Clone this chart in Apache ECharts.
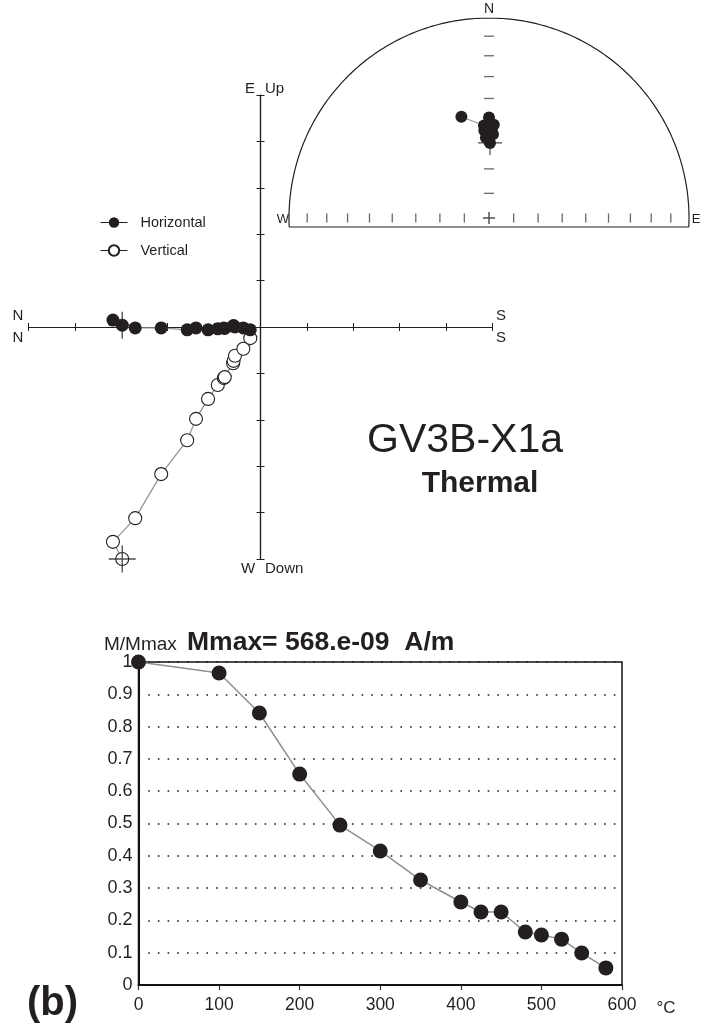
<!DOCTYPE html>
<html>
<head>
<meta charset="utf-8">
<script src="https://cdn.jsdelivr.net/npm/echarts@6/dist/echarts.min.js"></script>
<style>
  html, body { margin: 0; padding: 0; background: #fff; }
  #chart { width: 713px; height: 1028px; }
</style>
</head>
<body>
<div id="chart"></div>
<script>
// Thermal demagnetisation steps (°C)
const steps = [0, 100, 150, 200, 250, 300, 350, 400, 425, 450, 480, 500, 525, 550, 580];
// Remaining intensity, normalised to Mmax
const intensity = [1.0, 0.966, 0.842, 0.653, 0.495, 0.415, 0.325, 0.257, 0.226, 0.226, 0.164, 0.155, 0.142, 0.099, 0.053];
// Vector components per step (x1e-9 A/m)
const north = [298, 318, 270, 214, 158, 139, 113, 92, 79, 77, 59, 58, 55, 37, 22];
const east  = [4, 15, -2, -2, -6, -2, -6, -4, -2, -3, 2, 3, 0, -2, -6];
const down  = [500, 463, 412, 317, 244, 198, 155, 125, 110, 108, 78, 73, 62, 47, 24];
// Axis settings
const zijLimit = 500, zijStep = 100;
const tempTicks = [0, 100, 200, 300, 400, 500, 600];
const netDips = [10, 20, 30, 40, 50, 60, 70, 80];

const FONT = 'Liberation Sans, Arial, Helvetica, sans-serif';
const INK = '#231f20';
const LINE_GREY = '#8f8f8f';

// Schmidt (equal-area) projection of a vector, unit radius
function equalArea(n, e, d) {
  const h = Math.hypot(n, e);
  const inc = Math.atan2(d, h);
  const dec = Math.atan2(e, n);
  const r = Math.SQRT2 * Math.sin((Math.PI / 2 - Math.abs(inc)) / 2);
  return [r * Math.sin(dec), r * Math.cos(dec)];
}
const dipRadius = dip => Math.SQRT2 * Math.sin((90 - dip) * Math.PI / 360);

// Zijderveld projections
const horizontal = north.map((n, i) => [n, east[i]]);
const vertical = north.map((n, i) => [n, -down[i]]);
// Directions on the net
const directions = north.map((n, i) => equalArea(n, east[i], down[i]));
// Intensity curve
const decay = steps.map((t, i) => [t, intensity[i]]);

// Net outline: upper half of the primitive closed by a base line
const baseY = -0.045;
const a0 = Math.asin(baseY);
const outline = [];
for (let k = 0; k <= 180; k++) {
  const t = a0 + (Math.PI - 2 * a0) * k / 180;
  outline.push([Math.cos(t), Math.sin(t)]);
}
outline.push(outline[0]);

const rowTicks = [];
netDips.forEach(d => { rowTicks.push([dipRadius(d), 0]); rowTicks.push([-dipRadius(d), 0]); });
const northTicks = netDips.map(d => [0, dipRadius(d)]);

const crossPath = 'path://M0,4.75H10V5.25H0Z M4.75,0H5.25V10H4.75Z';
const boldCross = 'path://M0,4.4H10V5.6H0Z M4.4,0H5.6V10H4.4Z';

const zijAxisLine = { show: true, onZero: true, lineStyle: { color: INK, width: 1.2 } };
const zijX = (pos) => ({
  gridIndex: 0, type: 'value', position: pos, inverse: true,
  min: -zijLimit, max: zijLimit, interval: zijStep,
  axisLine: zijAxisLine,
  axisTick: { show: true, inside: false, length: 4, lineStyle: { color: INK, width: 1 } },
  axisLabel: { show: false }, splitLine: { show: false }
});
const zijY = (pos) => ({
  gridIndex: 0, type: 'value', position: pos,
  min: -zijLimit, max: zijLimit, interval: zijStep,
  axisLine: zijAxisLine,
  axisTick: { show: true, inside: false, length: 4, lineStyle: { color: INK, width: 1 } },
  axisLabel: { show: false }, splitLine: { show: false }
});
const hiddenAxis = (grid) => ({
  gridIndex: grid, type: 'value', min: -1, max: 1, show: false,
  axisLine: { show: false }, splitLine: { show: false }
});

const label = (x, y, str, size, weight, align) => ({
  type: 'text', x, y,
  style: {
    text: str, fill: INK, fontFamily: FONT, fontSize: size, fontWeight: weight || 'normal',
    align: align || 'center', verticalAlign: 'middle'
  }
});

const option = {
  animation: false,
  backgroundColor: '#fff',
  grid: [
    { left: 28.5, top: 95, width: 464, height: 464 },
    { left: 289, top: 18, width: 400, height: 400 },
    { left: 138.5, top: 662, width: 483.5, height: 323, show: true, borderColor: '#111', borderWidth: 1.5, backgroundColor: 'transparent' }
  ],
  xAxis: [
    zijX('bottom'),
    zijX('top'),
    hiddenAxis(1),
    {
      gridIndex: 2, type: 'value', min: tempTicks[0], max: tempTicks[tempTicks.length - 1], interval: 100,
      axisLine: { show: true, onZero: false, lineStyle: { color: '#111', width: 2 } },
      axisTick: { show: true, inside: false, length: 5, lineStyle: { color: '#333', width: 1.2 } },
      axisLabel: { color: INK, fontFamily: FONT, fontSize: 17.5, margin: 11 },
      splitLine: { show: false }
    }
  ],
  yAxis: [
    zijY('left'),
    zijY('right'),
    hiddenAxis(1),
    {
      gridIndex: 2, type: 'value', min: 0, max: 1, interval: 0.1,
      axisLine: { show: true, onZero: false, lineStyle: { color: '#111', width: 2 } },
      axisTick: { show: false },
      axisLabel: {
        color: INK, fontFamily: FONT, fontSize: 18, margin: 6,
        formatter: v => (v === 0 ? '0' : v === 1 ? '1' : v.toFixed(1))
      },
      splitLine: { show: true, lineStyle: { color: '#1a1a1a', width: 1.6, type: [1.6, 8.1] } }
    }
  ],
  legend: {
    data: ['Horizontal', 'Vertical'],
    orient: 'vertical', left: 100, top: 215, padding: 0,
    itemWidth: 27, itemHeight: 13, itemGap: 13,
    lineStyle: { color: INK, width: 1 },
    textStyle: { color: INK, fontFamily: FONT, fontSize: 14.5, padding: [0, 0, 0, 8] }
  },
  graphic: [
    // Zijderveld axis names
    label(18, 316, 'N', 15), label(18, 338, 'N', 15),
    label(501, 316, 'S', 15), label(501, 338, 'S', 15),
    label(250, 89, 'E', 15), label(265, 89, 'Up', 15, 'normal', 'left'),
    label(248, 569, 'W', 15), label(265, 569, 'Down', 15, 'normal', 'left'),
    // net compass letters
    label(489, 9, 'N', 14), label(283, 219, 'W', 13), label(696, 219, 'E', 13),
    // specimen
    label(465, 441, 'GV3B-X1a', 41),
    label(480, 484, 'Thermal', 30, 'bold'),
    // intensity panel texts
    label(104, 645, 'M/Mmax', 19, 'normal', 'left'),
    label(187, 643, 'Mmax= 568.e-09  A/m', 26.5, 'bold', 'left'),
    label(666, 1008, '°C', 17),
    label(27, 1004, '(b)', 40, 'bold', 'left')
  ],
  series: [
    {
      name: 'Vertical', type: 'line', xAxisIndex: 0, yAxisIndex: 0, z: 3,
      data: vertical, symbol: 'circle', symbolSize: 13,
      lineStyle: { color: LINE_GREY, width: 1.2 },
      itemStyle: { color: '#fff', borderColor: INK, borderWidth: 1.1 }
    },
    {
      name: 'Horizontal', type: 'line', xAxisIndex: 0, yAxisIndex: 0, z: 4,
      data: horizontal, symbol: 'circle', symbolSize: 13,
      lineStyle: { color: LINE_GREY, width: 1.2 },
      itemStyle: { color: INK, borderColor: INK, borderWidth: 0 }
    },
    {
      // first step marked with a cross on both projections
      type: 'scatter', xAxisIndex: 0, yAxisIndex: 0, z: 5, silent: true,
      data: [horizontal[0], vertical[0]], symbol: crossPath, symbolSize: 27,
      itemStyle: { color: INK }
    },
    {
      type: 'line', xAxisIndex: 2, yAxisIndex: 2, data: outline, symbol: 'none', silent: true,
      lineStyle: { color: INK, width: 1.2 }
    },
    {
      type: 'scatter', xAxisIndex: 2, yAxisIndex: 2, data: rowTicks, silent: true,
      symbol: 'rect', symbolSize: [1.3, 9], itemStyle: { color: '#444' }
    },
    {
      type: 'scatter', xAxisIndex: 2, yAxisIndex: 2, data: northTicks, silent: true,
      symbol: 'rect', symbolSize: [10, 1.3], itemStyle: { color: '#444' }
    },
    {
      type: 'scatter', xAxisIndex: 2, yAxisIndex: 2, data: [[0, 0]], silent: true,
      symbol: boldCross, symbolSize: 12, itemStyle: { color: INK }
    },
    {
      type: 'line', xAxisIndex: 2, yAxisIndex: 2, z: 4, data: directions,
      symbol: 'circle', symbolSize: 12,
      lineStyle: { color: LINE_GREY, width: 1 },
      itemStyle: { color: INK }
    },
    {
      type: 'scatter', xAxisIndex: 2, yAxisIndex: 2, z: 5, silent: true,
      data: [directions[0]], symbol: crossPath, symbolSize: 24, itemStyle: { color: INK }
    },
    {
      type: 'line', xAxisIndex: 3, yAxisIndex: 3, z: 4, data: decay,
      symbol: 'circle', symbolSize: 15,
      lineStyle: { color: LINE_GREY, width: 1.5 },
      itemStyle: { color: INK }
    }
  ]
};

const chart = echarts.init(document.getElementById('chart'), null, { renderer: 'canvas' });
chart.setOption(option);
</script>
</body>
</html>
